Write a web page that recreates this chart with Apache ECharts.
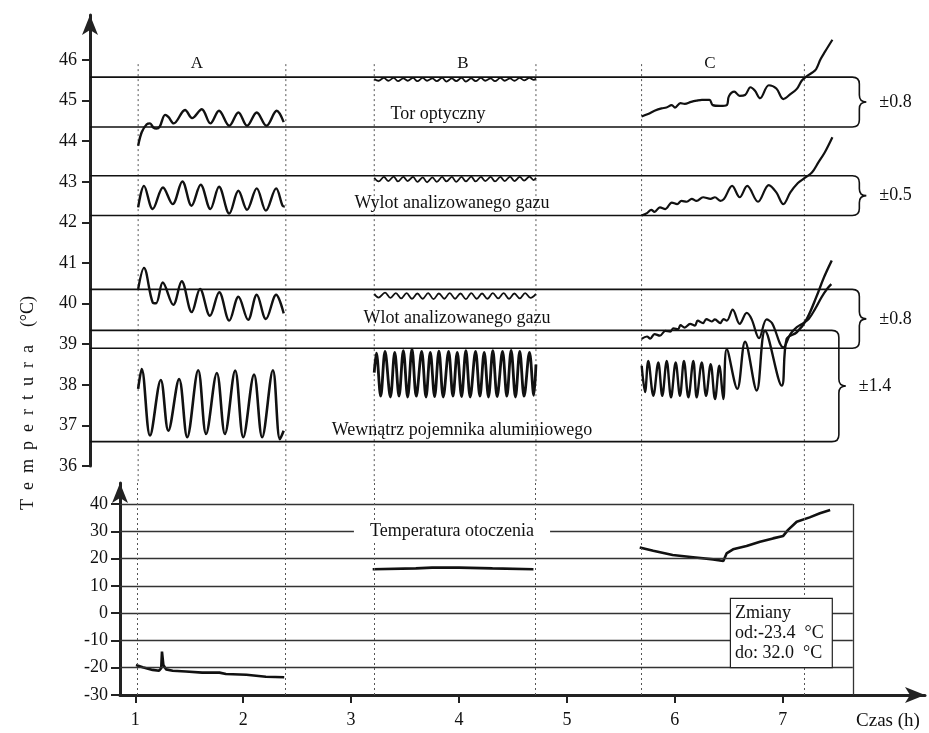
<!DOCTYPE html>
<html>
<head>
<meta charset="utf-8">
<title>Temperatura</title>
<script src="https://cdn.jsdelivr.net/npm/echarts@6/dist/echarts.min.js"></script>
<style>
html, body { margin: 0; padding: 0; background: #fff; }
#main { width: 929px; height: 733px; }
</style>
</head>
<body>
<div id="main"></div>
<script>
// osie
var xTicks = [1, 2, 3, 4, 5, 6, 7]
var yTicksTop = [36, 37, 38, 39, 40, 41, 42, 43, 44, 45, 46]
var yTicksBottom = [-30, -20, -10, 0, 10, 20, 30, 40]

// przerywane linie pionowe (granice odcinkow A, B, C)
var xDotted = [1.02, 2.39, 3.21, 4.71, 5.69, 7.20]

// pasma (gorna i dolna linia) + opis klamry
var bandTop = [45.58, 43.15, 40.35, 39.34]
var bandBottom = [44.35, 42.17, 38.9, 36.6]
var bandLabels = ['±0.8', '±0.5', '±0.8', '±1.4']

// Tor optyczny
var torA = [[1.02, 43.89], [1.053, 44.22], [1.10, 44.42], [1.13, 44.44], [1.16, 44.34], [1.19, 44.31], [1.22, 44.36], [1.27, 44.65], [1.30, 44.60], [1.35, 44.44], [1.455, 44.77], [1.52, 44.57], [1.61, 44.79], [1.69, 44.44], [1.77, 44.75], [1.865, 44.38], [1.95, 44.71], [2.03, 44.38], [2.12, 44.71], [2.21, 44.38], [2.305, 44.75], [2.37, 44.47]]
var torB = [[3.21, 45.53], [3.25, 45.49], [3.30, 45.56], [3.34, 45.49], [3.39, 45.56], [3.43, 45.48], [3.48, 45.55], [3.52, 45.49], [3.57, 45.56], [3.61, 45.48], [3.66, 45.56], [3.70, 45.49], [3.75, 45.55], [3.79, 45.48], [3.84, 45.56], [3.88, 45.47], [3.93, 45.55], [3.97, 45.48], [4.02, 45.56], [4.06, 45.47], [4.11, 45.55], [4.15, 45.48], [4.20, 45.56], [4.24, 45.49], [4.29, 45.55], [4.33, 45.48], [4.38, 45.56], [4.42, 45.49], [4.47, 45.55], [4.51, 45.49], [4.56, 45.56], [4.60, 45.50], [4.65, 45.56], [4.69, 45.51], [4.71, 45.55]]
var torC = [[5.69, 44.61], [5.75, 44.67], [5.81, 44.75], [5.875, 44.81], [5.92, 44.83], [5.97, 44.89], [6.00, 44.83], [6.05, 44.94], [6.09, 44.92], [6.15, 44.97], [6.20, 45.0], [6.25, 45.02], [6.32, 45.02], [6.35, 44.89], [6.42, 44.87], [6.48, 44.89], [6.50, 45.11], [6.55, 45.22], [6.60, 45.12], [6.65, 45.14], [6.70, 45.33], [6.74, 45.25], [6.79, 45.06], [6.87, 45.38], [6.94, 45.30], [7.005, 45.04], [7.07, 45.16], [7.13, 45.29], [7.175, 45.49], [7.22, 45.60], [7.28, 45.70], [7.31, 45.78], [7.35, 46.02], [7.39, 46.20], [7.46, 46.50]]

// Wylot analizowanego gazu
var wylotA = [[1.02, 42.37], [1.074, 42.90], [1.155, 42.33], [1.25, 42.86], [1.34, 42.45], [1.43, 43.01], [1.515, 42.41], [1.60, 42.93], [1.69, 42.33], [1.77, 42.88], [1.865, 42.22], [1.95, 42.78], [2.03, 42.31], [2.12, 42.84], [2.205, 42.29], [2.30, 42.84], [2.36, 42.41], [2.38, 42.39]]
var wylotB = [[3.21, 43.10], [3.25, 43.01], [3.30, 43.12], [3.34, 43.02], [3.39, 43.13], [3.43, 43.01], [3.48, 43.12], [3.52, 43.02], [3.57, 43.12], [3.61, 43.00], [3.66, 43.11], [3.70, 42.99], [3.75, 43.11], [3.79, 43.00], [3.84, 43.12], [3.88, 43.01], [3.93, 43.12], [3.97, 43.00], [4.02, 43.12], [4.06, 43.01], [4.11, 43.13], [4.15, 43.01], [4.20, 43.12], [4.24, 43.02], [4.29, 43.12], [4.33, 43.01], [4.38, 43.12], [4.42, 43.02], [4.47, 43.13], [4.51, 43.02], [4.56, 43.12], [4.60, 43.03], [4.65, 43.13], [4.69, 43.04], [4.71, 43.10]]
var wylotC = [[5.69, 42.17], [5.74, 42.23], [5.78, 42.31], [5.81, 42.26], [5.86, 42.37], [5.91, 42.33], [5.97, 42.49], [6.02, 42.45], [6.06, 42.53], [6.11, 42.51], [6.155, 42.58], [6.20, 42.53], [6.26, 42.62], [6.33, 42.58], [6.37, 42.62], [6.42, 42.53], [6.455, 42.58], [6.53, 42.90], [6.60, 42.62], [6.67, 42.90], [6.77, 42.51], [6.87, 42.92], [6.94, 42.74], [7.005, 42.45], [7.07, 42.74], [7.14, 42.97], [7.20, 43.09], [7.27, 43.23], [7.33, 43.48], [7.39, 43.73], [7.46, 44.10]]

// Wlot analizowanego gazu
var wlotA = [[1.02, 40.36], [1.074, 40.88], [1.155, 40.03], [1.186, 40.01], [1.248, 40.52], [1.346, 39.97], [1.424, 40.55], [1.517, 39.79], [1.594, 40.36], [1.686, 39.70], [1.772, 40.28], [1.865, 39.58], [1.95, 40.17], [2.04, 39.60], [2.12, 40.22], [2.205, 39.62], [2.30, 40.22], [2.37, 39.76]]
var wlotB = [[3.21, 40.24], [3.25, 40.15], [3.31, 40.27], [3.36, 40.14], [3.41, 40.26], [3.46, 40.13], [3.51, 40.26], [3.56, 40.12], [3.61, 40.25], [3.66, 40.12], [3.71, 40.26], [3.76, 40.11], [3.81, 40.25], [3.86, 40.12], [3.91, 40.26], [3.96, 40.12], [4.01, 40.25], [4.06, 40.11], [4.11, 40.26], [4.16, 40.12], [4.21, 40.25], [4.26, 40.12], [4.31, 40.26], [4.36, 40.13], [4.41, 40.26], [4.46, 40.12], [4.51, 40.25], [4.56, 40.13], [4.61, 40.26], [4.66, 40.14], [4.71, 40.24]]
var wlotC = [[5.69, 39.13], [5.74, 39.19], [5.77, 39.14], [5.81, 39.25], [5.86, 39.21], [5.91, 39.33], [5.955, 39.31], [5.985, 39.39], [6.03, 39.37], [6.05, 39.47], [6.09, 39.41], [6.14, 39.50], [6.185, 39.46], [6.21, 39.58], [6.26, 39.52], [6.29, 39.62], [6.34, 39.56], [6.37, 39.61], [6.42, 39.52], [6.45, 39.62], [6.48, 39.58], [6.535, 39.85], [6.60, 39.50], [6.665, 39.77], [6.71, 39.62], [6.78, 39.15], [6.85, 39.61], [6.90, 39.52], [7.005, 38.92], [7.07, 39.25], [7.13, 39.42], [7.19, 39.52], [7.24, 39.62], [7.30, 39.87], [7.36, 40.16], [7.41, 40.36], [7.45, 40.48]]

// Wewnatrz pojemnika aluminiowego
var wewA = [[1.02, 37.90], [1.053, 38.39], [1.13, 36.75], [1.23, 38.12], [1.30, 36.87], [1.40, 38.14], [1.475, 36.71], [1.577, 38.36], [1.65, 36.79], [1.75, 38.29], [1.825, 36.79], [1.92, 38.35], [1.995, 36.71], [2.095, 38.25], [2.17, 36.71], [2.27, 38.36], [2.335, 36.66], [2.37, 36.87]]
var wewB = [[3.21, 38.30], [3.23, 38.78], [3.27, 37.72], [3.31, 38.82], [3.36, 37.70], [3.40, 38.80], [3.44, 37.72], [3.48, 38.84], [3.52, 37.70], [3.56, 38.88], [3.60, 37.72], [3.65, 38.82], [3.69, 37.70], [3.73, 38.80], [3.77, 37.71], [3.81, 38.83], [3.85, 37.70], [3.90, 38.82], [3.94, 37.72], [3.98, 38.80], [4.02, 37.71], [4.06, 38.84], [4.10, 37.70], [4.15, 38.82], [4.19, 37.72], [4.23, 38.80], [4.27, 37.70], [4.31, 38.84], [4.35, 37.71], [4.40, 38.82], [4.44, 37.72], [4.48, 38.85], [4.52, 37.70], [4.56, 38.82], [4.60, 37.72], [4.65, 38.80], [4.69, 37.74], [4.71, 38.50]]
var wewC = [[5.691, 38.47], [5.722, 37.82], [5.752, 38.59], [5.799, 37.73], [5.845, 38.55], [5.882, 37.73], [5.923, 38.59], [5.963, 37.69], [6.006, 38.55], [6.046, 37.73], [6.083, 38.59], [6.124, 37.69], [6.170, 38.59], [6.201, 37.69], [6.248, 38.55], [6.288, 37.73], [6.331, 38.51], [6.371, 37.65], [6.411, 38.47], [6.448, 37.65], [6.480, 38.88], [6.578, 37.90], [6.650, 39.06], [6.758, 37.86], [6.835, 39.33], [6.990, 37.98], [7.036, 39.13], [7.129, 39.29], [7.222, 39.62], [7.315, 40.19], [7.376, 40.61], [7.454, 41.06]]

// Temperatura otoczenia
var ambA = [[1.006, -19.0], [1.068, -19.8], [1.16, -20.8], [1.22, -21.1], [1.24, -20.2], [1.247, -14.1], [1.26, -19.0], [1.285, -20.6], [1.346, -21.1], [1.47, -21.4], [1.62, -21.8], [1.78, -21.8], [1.84, -22.3], [2.03, -22.6], [2.21, -23.3], [2.38, -23.5]]
var ambB = [[3.20, 16.1], [3.60, 16.4], [3.75, 16.7], [4.00, 16.7], [4.31, 16.4], [4.69, 16.1]]
var ambC = [[5.675, 24.1], [5.80, 22.9], [5.98, 21.3], [6.17, 20.5], [6.355, 19.7], [6.45, 19.1], [6.48, 21.9], [6.54, 23.4], [6.665, 24.6], [6.79, 26.2], [6.91, 27.4], [7.005, 28.3], [7.05, 30.5], [7.13, 33.5], [7.25, 35.1], [7.345, 36.6], [7.44, 37.8]]

var SERIF = '"Liberation Serif", "DejaVu Serif", serif'
var INK = '#111'
var topXMin = 0.5733
var botXMin = 0.858
var xMax = 8.319
var gridRight = 7.65
var braceX = [7.71, 7.71, 7.71, 7.52]

var myChart = echarts.init(document.getElementById('main'))

function wave (data, width) {
    return {
        type: 'line',
        xAxisIndex: 0,
        yAxisIndex: 0,
        data: data,
        smooth: 0.35,
        symbol: 'none',
        silent: true,
        z: 4,
        lineStyle: { color: INK, width: width }
    }
}

function amb (data) {
    return {
        type: 'line',
        xAxisIndex: 1,
        yAxisIndex: 1,
        data: data,
        symbol: 'none',
        silent: true,
        z: 4,
        lineStyle: { color: INK, width: 2.6 }
    }
}

/* klamra z liniami pasma */
function renderBand (params, api) {
    var i = params.dataIndex
    var left = api.coord([topXMin, api.value(1)])
    var pT = api.coord([api.value(0), api.value(1)])
    var pB = api.coord([api.value(0), api.value(2)])
    var xb = pT[0], yt = pT[1], yb = pB[1], ym = (yt + yb) / 2
    var r = 7, w = 7
    var d = 'M' + left[0] + ' ' + yt + ' L' + (xb - r) + ' ' + yt +
        ' Q' + xb + ' ' + yt + ' ' + xb + ' ' + (yt + r) +
        ' L' + xb + ' ' + (ym - r) +
        ' Q' + xb + ' ' + ym + ' ' + (xb + w) + ' ' + ym +
        ' Q' + xb + ' ' + ym + ' ' + xb + ' ' + (ym + r) +
        ' L' + xb + ' ' + (yb - r) +
        ' Q' + xb + ' ' + yb + ' ' + (xb - r) + ' ' + yb +
        ' L' + left[0] + ' ' + yb
    return {
        type: 'group',
        children: [{
            type: 'path',
            shape: { pathData: d },
            style: { fill: 'none', stroke: INK, lineWidth: 1.6 }
        }, {
            type: 'text',
            x: xb + 20,
            y: ym,
            style: { text: bandLabels[i], font: '18px ' + SERIF, fill: INK, verticalAlign: 'middle' }
        }]
    }
}

/* kropkowane linie pionowe w gornym wykresie (do dolnej krawedzi osi) */
function renderDotted (params, api) {
    var a = api.coord([api.value(0), 45.9])
    var b = api.coord([api.value(0), 35.58])
    return {
        type: 'line',
        shape: { x1: a[0], y1: a[1], x2: b[0], y2: b[1] },
        style: { stroke: '#555', lineWidth: 1, lineDash: [2, 3] }
    }
}

function txt (x, y, s, size, extra) {
    var style = { text: s, font: size + 'px ' + SERIF, fill: INK, align: 'center', verticalAlign: 'middle' }
    for (var k in extra) style[k] = extra[k]
    return { type: 'text', x: x, y: y, z: 50, silent: true, style: style }
}

var dotStyle = { type: [2, 3], color: '#555', width: 1 }
var gridStyle = { type: 'solid', color: '#333', width: 1.3 }

var option = {
    animation: false,
    backgroundColor: '#fff',
    grid: [
        { left: 90, right: 4, top: 15, height: 451 },
        { left: 120, right: 4, top: 483, height: 212 }
    ],
    xAxis: [{
        gridIndex: 0,
        type: 'value',
        min: topXMin,
        max: xMax,
        show: false
    }, {
        gridIndex: 1,
        type: 'value',
        min: botXMin,
        max: xMax,
        splitLine: { show: false },
        axisLine: {
            onZero: false,
            symbol: ['none', 'arrow'],
            symbolSize: [12, 20],
            lineStyle: { color: '#222', width: 3 }
        },
        axisTick: { customValues: xTicks, length: 8, lineStyle: { color: '#222', width: 2 } },
        axisLabel: { customValues: xTicks, margin: 16, color: INK, fontSize: 18, fontFamily: SERIF }
    }],
    yAxis: [{
        gridIndex: 0,
        type: 'value',
        min: 36,
        max: 47.11,
        splitLine: { show: false },
        axisLine: {
            onZero: false,
            symbol: ['none', 'arrow'],
            symbolSize: [12, 20],
            lineStyle: { color: '#222', width: 3 }
        },
        axisTick: { customValues: yTicksTop, length: 8, lineStyle: { color: '#222', width: 2 } },
        axisLabel: { customValues: yTicksTop, margin: 13, color: INK, fontSize: 18, fontFamily: SERIF }
    }, {
        gridIndex: 1,
        type: 'value',
        min: -30,
        max: 47.7,
        splitLine: { show: false },
        axisLine: {
            onZero: false,
            symbol: ['none', 'arrow'],
            symbolSize: [12, 20],
            lineStyle: { color: '#222', width: 3 }
        },
        axisTick: { customValues: yTicksBottom, length: 9, lineStyle: { color: '#222', width: 2 } },
        axisLabel: { customValues: yTicksBottom, margin: 12, color: INK, fontSize: 18, fontFamily: SERIF }
    }],
    series: [
        {
            type: 'custom',
            xAxisIndex: 0,
            yAxisIndex: 0,
            silent: true,
            z: 2,
            renderItem: renderBand,
            data: bandTop.map(function (t, i) { return [braceX[i], t, bandBottom[i]] })
        },
        {
            type: 'custom',
            xAxisIndex: 0,
            yAxisIndex: 0,
            silent: true,
            z: 1,
            renderItem: renderDotted,
            data: xDotted.map(function (v) { return [v, 40] })
        },
        wave(torA, 2.4), wave(torB, 1.8), wave(torC, 2.2),
        wave(wylotA, 2.4), wave(wylotB, 1.8), wave(wylotC, 2.2),
        wave(wlotA, 2.4), wave(wlotB, 1.8), wave(wlotC, 2.2),
        wave(wewA, 2.6), wave(wewB, 2.8), wave(wewC, 2.4),
        amb(ambA), amb(ambB), amb(ambC),
        {
            // siatka dolnego wykresu + kropkowane pionowe
            type: 'line',
            xAxisIndex: 1,
            yAxisIndex: 1,
            data: [],
            silent: true,
            markLine: {
                silent: true,
                symbol: ['none', 'none'],
                label: { show: false },
                data: yTicksBottom.slice(1).map(function (v) {
                    return [{ coord: [botXMin, v], lineStyle: gridStyle }, { coord: [gridRight, v] }]
                }).concat([[{ coord: [gridRight, -30], lineStyle: gridStyle }, { coord: [gridRight, 40] }]])
                    .concat(xDotted.map(function (v) {
                        return [{ coord: [v, 47.7], lineStyle: dotStyle }, { coord: [v, -30] }]
                    }))
            }
        }
    ],
    graphic: [
        txt(197, 64, 'A', 17),
        txt(463, 64, 'B', 17),
        txt(710, 64, 'C', 17),
        txt(438, 114, 'Tor optyczny', 18),
        txt(452, 203, 'Wylot analizowanego gazu', 18),
        txt(457, 318, 'Wlot analizowanego gazu', 18),
        txt(462, 430, 'Wewnątrz pojemnika aluminiowego', 18),
        txt(452, 531, 'Temperatura otoczenia', 18, { backgroundColor: '#fff', padding: [2, 16] }),
        txt(888, 721, 'Czas (h)', 19),
        {
            type: 'text',
            x: 28,
            y: 403,
            rotation: Math.PI / 2,
            z: 50,
            silent: true,
            style: {
                text: 'T\u2002e\u2002m\u2002p\u2002e\u2002r\u2002t\u2002u\u2002r\u2002a\u2002\u2002(°C)',
                font: '18px ' + SERIF,
                fill: INK,
                align: 'center',
                verticalAlign: 'middle'
            }
        },
        {
            type: 'text',
            x: 731,
            y: 599,
            z: 60,
            silent: true,
            style: {
                text: 'Zmiany\nod:-23.4  °C\ndo: 32.0  °C',
                font: '18px ' + SERIF,
                fill: INK,
                lineHeight: 20,
                backgroundColor: '#fff',
                borderColor: '#222',
                borderWidth: 1.2,
                padding: [4, 8, 4, 4],
                align: 'left',
                verticalAlign: 'top'
            }
        }
    ]
}

myChart.setOption(option)
window.onresize = myChart.resize
</script>
</body>
</html>
